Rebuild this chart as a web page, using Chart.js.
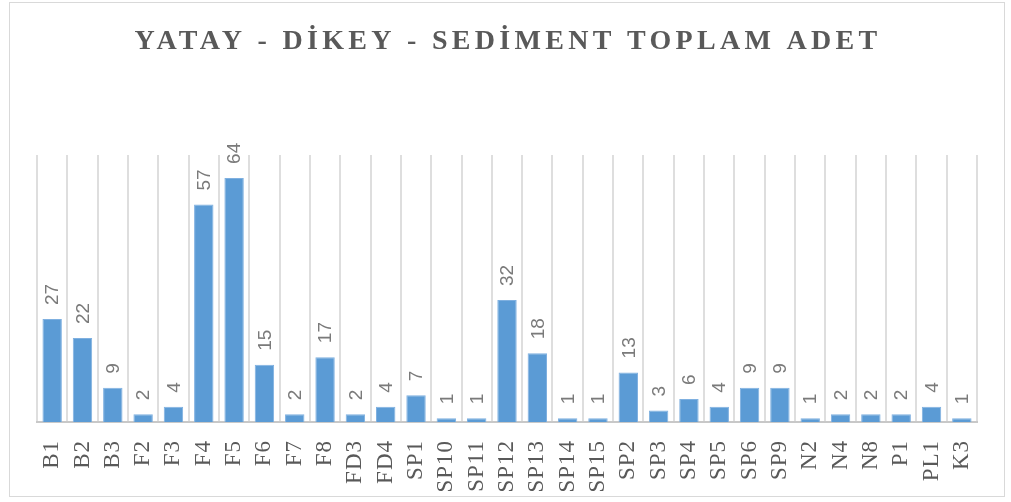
<!DOCTYPE html>
<html>
<head>
<meta charset="utf-8">
<script src="https://cdn.jsdelivr.net/npm/chart.js@4/dist/chart.umd.min.js"></script>
<style>
  html, body { margin: 0; padding: 0; background: #ffffff; }
  #wrap { position: relative; width: 1011px; height: 502px; }
</style>
</head>
<body>
<div id="wrap"><canvas id="sediment-chart"></canvas></div>
<script>
//Chart data
const chartTitle = 'YATAY - DİKEY - SEDİMENT TOPLAM ADET';
const stations = ['B1', 'B2', 'B3', 'F2', 'F3', 'F4', 'F5', 'F6', 'F7', 'F8', 'FD3', 'FD4', 'SP1', 'SP10', 'SP11', 'SP12', 'SP13', 'SP14', 'SP15', 'SP2', 'SP3', 'SP4', 'SP5', 'SP6', 'SP9', 'N2', 'N4', 'N8', 'P1', 'PL1', 'K3'];
const totals = [27, 22, 9, 2, 4, 57, 64, 15, 2, 17, 2, 4, 7, 1, 1, 32, 18, 1, 1, 13, 3, 6, 4, 9, 9, 1, 2, 2, 2, 4, 1];
const yMax = 70;

const textGray = '#595959';

//Draws the frame, the title, the rotated category labels and the value labels
const decorations = {
    id: 'decorations',
    beforeDraw(chart){
        const ctx = chart.ctx;
        ctx.save();
        ctx.strokeStyle = '#d9d9d9';
        ctx.lineWidth = 1;
        ctx.strokeRect(9.5, 2.5, 995, 494);
        ctx.restore();
    },
    afterDraw(chart){
        const ctx = chart.ctx;
        const xScale = chart.scales.x;

        //Title
        ctx.save();
        ctx.font = 'bold 28px "Liberation Serif", "Times New Roman", serif';
        ctx.fillStyle = textGray;
        ctx.letterSpacing = '4.3px';
        ctx.textAlign = 'center';
        ctx.textBaseline = 'alphabetic';
        ctx.fillText(chartTitle, 508, 49);
        ctx.restore();

        //Category labels, read from bottom to top
        ctx.save();
        ctx.font = '23px "Liberation Serif", "Times New Roman", serif';
        ctx.fillStyle = textGray;
        ctx.letterSpacing = '1px';
        for(let i = 0; i < stations.length; i++){
            const x = xScale.getPixelForValue(i);
            ctx.save();
            ctx.translate(x, 440);
            ctx.rotate(-Math.PI / 2);
            ctx.textAlign = 'right';
            ctx.textBaseline = 'middle';
            ctx.fillText(stations[i], 0, 0);
            ctx.restore();
        }
        ctx.restore();
    },
    afterDatasetsDraw(chart){
        const ctx = chart.ctx;
        const meta = chart.getDatasetMeta(0);
        ctx.save();
        ctx.font = '19px "Liberation Sans", Arial, sans-serif';
        ctx.fillStyle = '#7a7a7a';
        meta.data.forEach((bar, i) => {
            ctx.save();
            ctx.translate(bar.x + 1, bar.y - 14);
            ctx.rotate(-Math.PI / 2);
            ctx.textAlign = 'left';
            ctx.textBaseline = 'middle';
            ctx.fillText(String(totals[i]), 0, 0);
            ctx.restore();
        });
        ctx.restore();
    }
};

const sedimentChart = new Chart('sediment-chart', {
    type: 'bar',
    data: {
        labels: stations,
        datasets: [{
            data: totals,
            backgroundColor: '#5b9bd5',
            borderColor: '#7fb0e0',
            borderWidth: 1,
            barPercentage: 0.64,
            categoryPercentage: 1
        }]
    },
    options: {
        responsive: true,
        maintainAspectRatio: false,
        animation: false,
        layout: {
            padding: { left: 37, right: 34, top: 155, bottom: 0 }
        },
        plugins: {
            legend: { display: false },
            title: { display: false },
            tooltip: { enabled: false }
        },
        scales: {
            x: {
                offset: true,
                grid: {
                    display: true,
                    offset: true,
                    color: '#dedede',
                    lineWidth: 2,
                    drawTicks: false
                },
                border: { display: true, color: '#c8c8c8', width: 2 },
                ticks: { display: false },
                afterFit(scale){
                    scale.height = 80;
                }
            },
            y: {
                display: false,
                min: 0,
                max: yMax
            }
        }
    },
    plugins: [decorations]
});
</script>
</body>
</html>
